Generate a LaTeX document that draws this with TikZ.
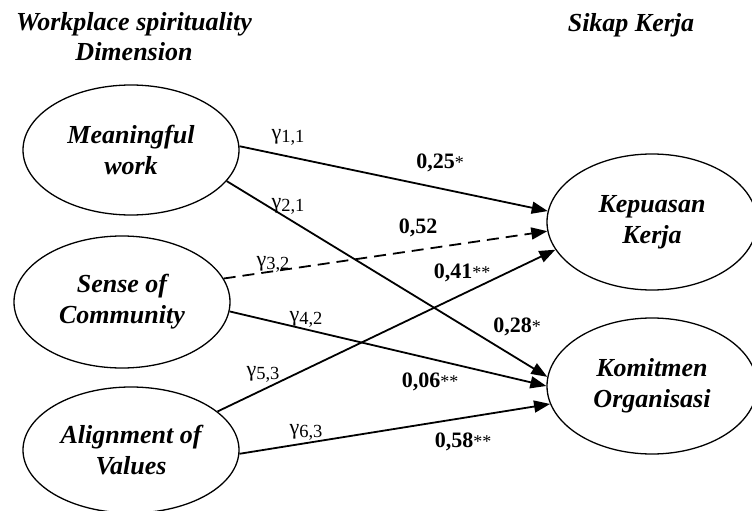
\documentclass[tikz,border=0pt]{standalone}
\usepackage{fontspec}
\setmainfont{Liberation Serif}
\usetikzlibrary{arrows.meta,shapes.geometric}
\newcommand\gsub[1]{γ\raisebox{-3pt}{\fontsize{18.5}{18.5}\selectfont #1}}
\newcommand\pval[2]{\textbf{#1}{\fontsize{18}{18}\selectfont #2}}
\begin{document}
\begin{tikzpicture}[x=1pt,y=-1pt,
  latent/.style={draw, ellipse, line width=1.3pt, minimum width=216pt, minimum height=130pt,
    inner sep=0pt, align=center, font=\fontsize{26}{31}\selectfont\bfseries\itshape},
  header/.style={align=center, inner sep=0pt, font=\fontsize{26}{30}\selectfont\bfseries\itshape},
  path/.style={line width=1.8pt, -{Triangle[length=16pt,width=12pt]}},
  dpath/.style={path, dash pattern=on 12pt off 7pt},
  glab/.style={inner sep=0pt, font=\fontsize{22}{26}\selectfont},
  vlab/.style={inner sep=0pt, font=\fontsize{22}{26}\selectfont}]
\fill[white] (0,0) rectangle (752,511);
\useasboundingbox (0,0) rectangle (752,511);

\node[header] (hws) at (134,37) {Workplace spirituality\\Dimension};
\node[header] (hsk) at (631,25) {Sikap Kerja};

\node[latent] (mw) at (131,150) {Meaningful\\work};
\node[latent, minimum height=132pt] (sc) at (122,302) {Sense of\\Community};
\node[latent, minimum height=126pt] (av) at (131,450) {Alignment of\\Values};
\node[latent, minimum width=210pt, minimum height=136pt] (kk) at (652,222) {Kepuasan\\Kerja};
\node[latent, minimum width=210pt, minimum height=136pt] (ko) at (652,386) {Komitmen\\Organisasi};

\draw[path] (mw.2) -- (kk.174);
\draw[path] (mw.-18) -- (ko.175);
\draw[dpath] (sc.13) -- (kk.185);
\draw[path] (sc.-5) -- (ko.180);
\draw[path] (av.24) -- (kk.196);
\draw[path] (av.-2) -- (ko.190);

\node[glab] (g11) at (288,137) {\gsub{1,1}};
\node[glab] (g21) at (288,206) {\gsub{2,1}};
\node[glab] (g32) at (273,264) {\gsub{3,2}};
\node[glab] (g42) at (306,319) {\gsub{4,2}};
\node[glab] (g53) at (263,374) {\gsub{5,3}};
\node[glab] (g63) at (306,432) {\gsub{6,3}};

\node[vlab] (v1) at (440,163) {\pval{0,25}{*}};
\node[vlab] (v2) at (418,228) {\pval{0,52}{}};
\node[vlab] (v3) at (462,273) {\pval{0,41}{**}};
\node[vlab] (v4) at (517,327) {\pval{0,28}{*}};
\node[vlab] (v5) at (430,382) {\pval{0,06}{**}};
\node[vlab] (v6) at (463,442) {\pval{0,58}{**}};
\end{tikzpicture}
\end{document}
